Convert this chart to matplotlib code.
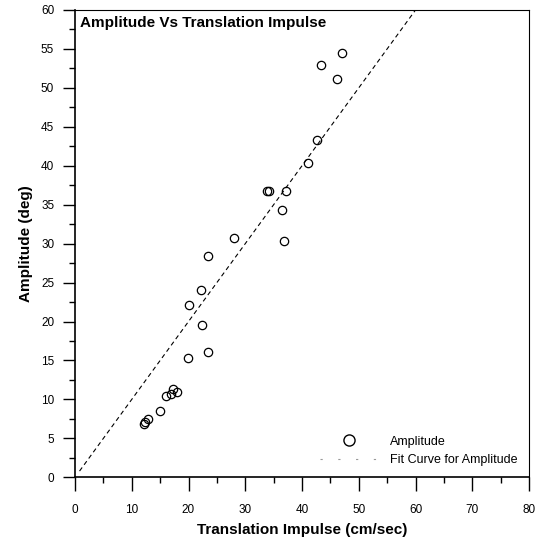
import matplotlib
matplotlib.use("Agg")
import matplotlib.pyplot as plt
import numpy as np
from matplotlib.lines import Line2D

plt.rcParams['font.family'] = ['Liberation Sans', 'DejaVu Sans']

# Data
impulse = [12.1, 12.3, 12.8, 15.0, 16.1, 16.9, 17.2, 18.0, 19.9, 20.0, 22.2, 22.3,
           23.4, 23.5, 28.0, 33.9, 34.1, 36.4, 36.9, 37.1, 41.0, 42.6, 43.4, 46.2, 47.1]
amplitude = [6.9, 7.1, 7.5, 8.5, 10.5, 10.7, 11.3, 11.0, 15.3, 22.1, 24.1, 19.5,
             28.4, 16.1, 30.7, 36.8, 36.7, 34.3, 30.4, 36.7, 40.3, 43.3, 52.9, 51.1, 54.5]
fit_slope = 1.0
fit_intercept = 0.0
fit_x = [0.8, 60.0]

xticks = [0, 10, 20, 30, 40, 50, 60, 70, 80]
yticks = [0, 5, 10, 15, 20, 25, 30, 35, 40, 45, 50, 55, 60]

fig = plt.figure(figsize=(5.35, 5.41), dpi=100)
ax = fig.add_axes([75/535, 1-477.3/541, (529-75)/535, (477.3-10)/541])

fx = np.array(fit_x)
ax.plot(fx, fit_slope*fx + fit_intercept, color='black', lw=0.8, ls=(0, (4, 3)))
ax.plot(impulse, amplitude, ls='none', marker='o', ms=6, mfc='none', mec='black', mew=0.9)

ax.set_xlim(0, 80)
ax.set_ylim(0, 60)
ax.set_xticks(xticks)
ax.set_yticks(yticks)
ax.set_xticks(np.arange(5, 80, 10), minor=True)
ax.set_yticks(np.arange(2.5, 60, 5), minor=True)
ax.tick_params(axis='both', which='major', direction='out', width=1, labelsize=8.5)
ax.tick_params(axis='both', which='minor', direction='out', length=4.5, width=1)
ax.tick_params(axis='x', which='major', length=10, pad=9)
ax.tick_params(axis='y', which='major', length=9, pad=6)

for s in ['left', 'bottom']:
    ax.spines[s].set_linewidth(1.2)
for s in ['top', 'right']:
    ax.spines[s].set_linewidth(0.8)

ax.set_xlabel('Translation Impulse (cm/sec)', fontsize=11, fontweight='bold', labelpad=5)
ax.set_ylabel('Amplitude (deg)', fontsize=11, fontweight='bold', labelpad=6)
ax.text(0.012, 0.988, 'Amplitude Vs Translation Impulse', transform=ax.transAxes,
        fontsize=11, fontweight='bold', ha='left', va='top')

handles = [Line2D([], [], ls='none', marker='o', ms=8, mfc='none', mec='black', mew=1.0),
           Line2D([], [], color='#999999', lw=0.8, ls=(0, (2, 14)))]
ax.legend(handles, ['Amplitude', 'Fit Curve for Amplitude'], loc='lower right',
          bbox_to_anchor=(1.0, 0.0), frameon=False, fontsize=9, handlelength=4.6,
          handletextpad=1.0, labelspacing=0.5)

fig.savefig('out.png', dpi=100)
